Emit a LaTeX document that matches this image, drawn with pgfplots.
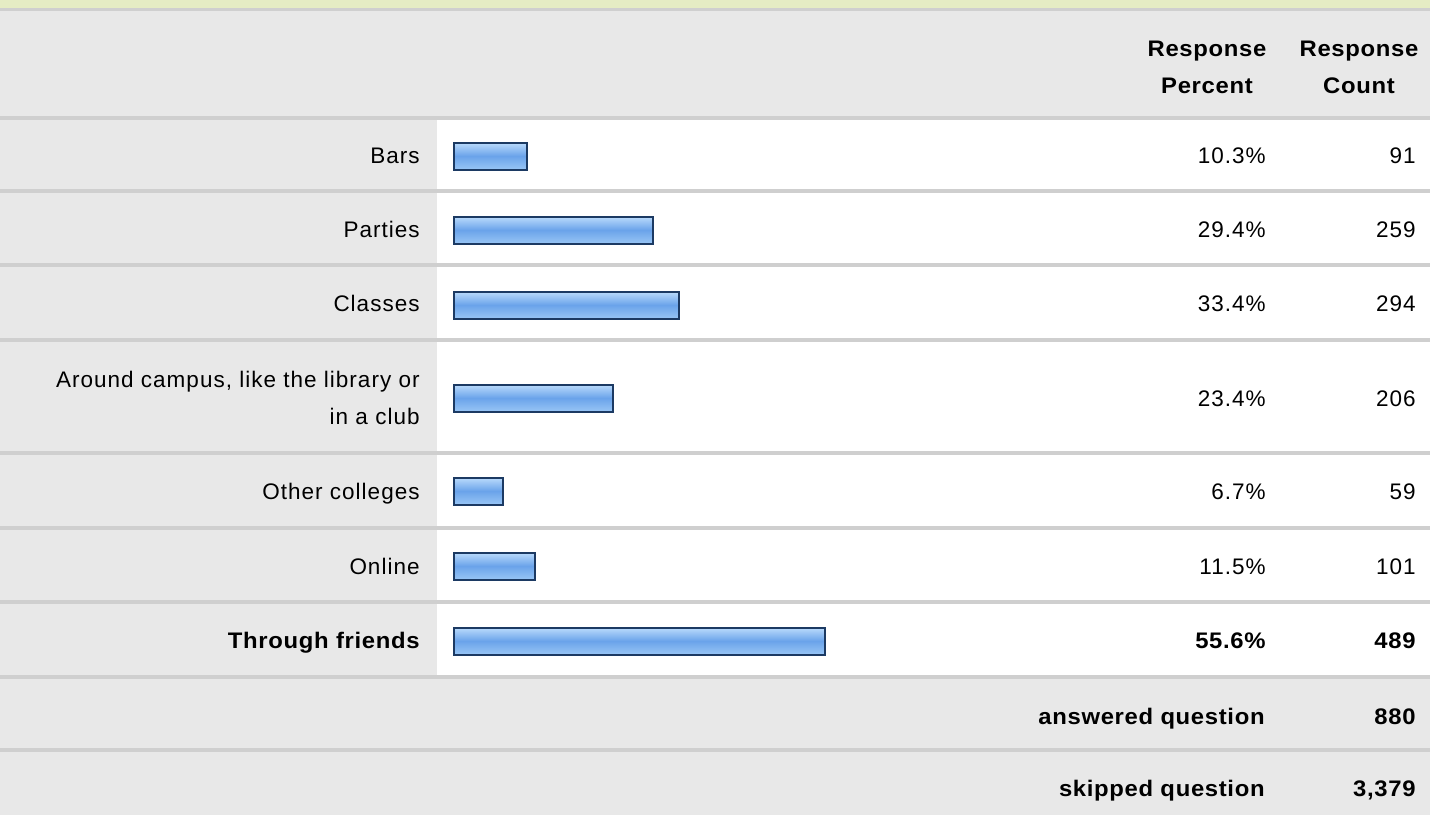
\documentclass[border=0pt]{standalone}
\usepackage{fontspec}
\setmainfont{Liberation Sans}[LetterSpace=4.5, BoldFeatures={FakeStretch=1.06, LetterSpace=3}]
\usepackage{pgfplots}
\pgfplotsset{compat=1.18}
\usepackage{pgfplotstable}

\definecolor{strip}{HTML}{E5ECC4}
\definecolor{panel}{HTML}{E8E8E8}
\definecolor{rulegray}{HTML}{CFCFCF}
\definecolor{bartop}{HTML}{BBDBFC}
\definecolor{barmid}{HTML}{6AA3EA}
\definecolor{barbot}{HTML}{98C5F5}
\definecolor{barline}{HTML}{1C3A63}

% y = bar centre in pixel rows, pct = response percent, count = response count
\pgfplotstableread{
y   pct   count
156 10.3  91
230 29.4  259
305 33.4  294
398 23.4  206
491 6.7   59
566 11.5  101
641 55.6  489
}\answers

\begin{document}
\begin{tikzpicture}[every node/.style={inner sep=0pt, font=\fontsize{11.25}{13}\selectfont}]
% table background, laid out in pixel units
\begin{scope}[x=0.5pt, y=-0.5pt]
  \fill[panel] (0,0) rectangle (1430,815);
  \fill[white] (437,120) rectangle (1430,675);
  \fill[strip] (0,0) rectangle (1430,8);
  \fill[rulegray] (0,8) rectangle (1430,11);
  \foreach \s in {116,189,263,338,451,526,600,675,748}
    \fill[rulegray] (0,\s) rectangle (1430,\s+4);
\end{scope}

\begin{axis}[
    at={(0pt,0pt)}, anchor=north west,
    scale only axis, width=715pt, height=407.5pt,
    xmin=-68.94, xmax=148.06, ymin=0, ymax=815,
    y dir=reverse, hide axis, enlargelimits=false, clip=false
]
% one plot per bar so that every bar gets its own gradient
\pgfplotsinvokeforeach{0,...,6}{
  \addplot[xbar, bar width=13.5pt, draw=barline, line width=1pt,
      top color=bartop, bottom color=barbot, middle color=barmid,
      restrict expr to domain={\coordindex}{#1:#1}]
      table[x expr=\thisrow{pct}+0.68, y=y] {\answers};
}
\end{axis}

\begin{scope}[x=0.5pt, y=-0.5pt]
  % header
  \node[anchor=base] at (1207,56) {\bfseries Response};
  \node[anchor=base] at (1207,93) {\bfseries Percent};
  \node[anchor=base] at (1359,56) {\bfseries Response};
  \node[anchor=base] at (1359,93) {\bfseries Count};
  % row labels
  \node[anchor=base east] at (420,163) {Bars};
  \node[anchor=base east] at (420,237) {Parties};
  \node[anchor=base east] at (420,311) {Classes};
  \node[anchor=base east] at (420,387) {Around campus, like the library or};
  \node[anchor=base east] at (420,424) {in a club};
  \node[anchor=base east] at (420,499) {Other colleges};
  \node[anchor=base east] at (420,574) {Online};
  \node[anchor=base east] at (420,648) {\bfseries Through friends};
  % percent column
  \node[anchor=base east] at (1266,163) {10.3\%};
  \node[anchor=base east] at (1266,237) {29.4\%};
  \node[anchor=base east] at (1266,311) {33.4\%};
  \node[anchor=base east] at (1266,406) {23.4\%};
  \node[anchor=base east] at (1266,499) {6.7\%};
  \node[anchor=base east] at (1266,574) {11.5\%};
  \node[anchor=base east] at (1266,648) {\bfseries 55.6\%};
  % count column
  \node[anchor=base east] at (1416,163) {91};
  \node[anchor=base east] at (1416,237) {259};
  \node[anchor=base east] at (1416,311) {294};
  \node[anchor=base east] at (1416,406) {206};
  \node[anchor=base east] at (1416,499) {59};
  \node[anchor=base east] at (1416,574) {101};
  \node[anchor=base east] at (1416,648) {\bfseries 489};
  % footer
  \node[anchor=base east] at (1265,724) {\bfseries answered question};
  \node[anchor=base east] at (1416,724) {\bfseries 880};
  \node[anchor=base east] at (1265,796) {\bfseries skipped question};
  \node[anchor=base east] at (1416,796) {\bfseries 3,379};
\end{scope}
\end{tikzpicture}
\end{document}
